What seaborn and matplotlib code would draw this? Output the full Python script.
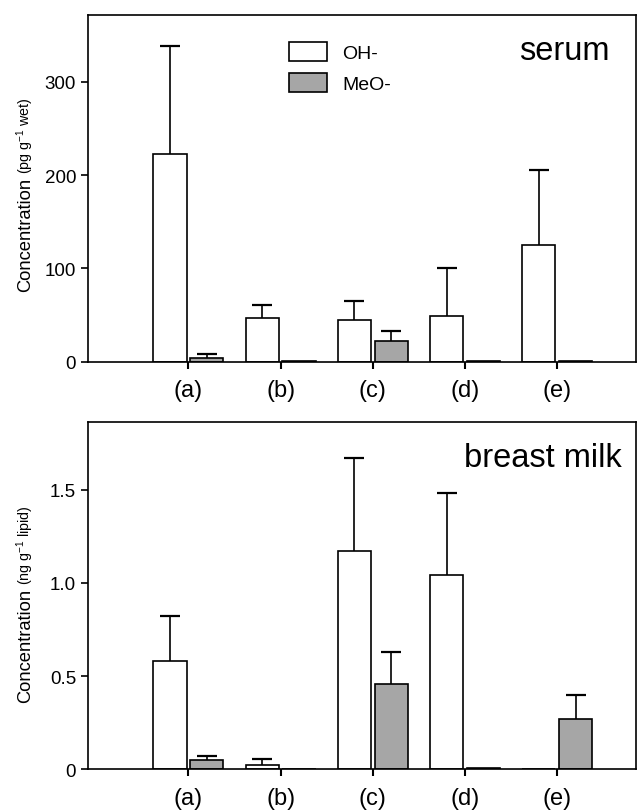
import numpy as np
import pandas as pd
import matplotlib
matplotlib.use("Agg")
import matplotlib.pyplot as plt
import seaborn as sns

# ---------------- data ----------------
categories = ["(a)", "(b)", "(c)", "(d)", "(e)"]
series = ["OH-", "MeO-"]

serum_oh = [223, 47, 45, 49, 125]
serum_oh_sd = [115, 14, 20, 51, 80]
serum_meo = [4.3, 1.0, 22, 1.0, 1.0]
serum_meo_sd = [3.6, 0, 11, 0, 0]

milk_oh = [0.58, 0.021, 1.17, 1.04, 0.004]
milk_oh_sd = [0.24, 0.034, 0.50, 0.44, 0]
milk_meo = [0.05, 0.003, 0.46, 0.005, 0.27]
milk_meo_sd = [0.02, 0, 0.17, 0, 0.13]

serum_yticks = [0, 100, 200, 300]
serum_yticklabels = ["0", "100", "200", "300"]
milk_yticks = [0, 0.5, 1.0, 1.5]
milk_yticklabels = ["0", "0.5", "1.0", "1.5"]

# ---------------- style ----------------
sns.set_theme(style="ticks")
plt.rcParams["font.family"] = ["Liberation Sans", "DejaVu Sans"]
plt.rcParams["mathtext.default"] = "regular"
plt.rcParams["text.color"] = "black"

W, H = 637, 812
fig = plt.figure(figsize=(W / 100, H / 100), dpi=100)
ax1 = fig.add_axes([88 / W, 1 - 362.7 / H, 548 / W, 347.0 / H])
ax2 = fig.add_axes([88 / W, 1 - 770.3 / H, 548 / W, 347.6 / H])

palette = {"OH-": "white", "MeO-": "#a6a6a6"}


def panel(ax, oh, oh_sd, meo, meo_sd, ymax, yticks, yticklabels, title, title_x):
    df = pd.DataFrame({
        "cat": categories * 2,
        "type": ["OH-"] * len(categories) + ["MeO-"] * len(categories),
        "value": list(oh) + list(meo),
    })
    sns.barplot(data=df, x="cat", y="value", hue="type", order=categories,
                hue_order=series, palette=palette, width=0.8, gap=0.1,
                edgecolor="black", linewidth=1.2, errorbar=None, legend=False,
                saturation=1, ax=ax)
    for cont, sd in zip(ax.containers[:2], [oh_sd, meo_sd]):
        xs, ys, es = [], [], []
        for p, e in zip(cont, sd):
            if e > 0:
                xs.append(p.get_x() + p.get_width() / 2)
                ys.append(p.get_height())
                es.append(e)
        if xs:
            eb = ax.errorbar(xs, ys, yerr=[np.zeros(len(es)), es], fmt="none",
                             ecolor="black", elinewidth=1.2, capsize=7.2,
                             capthick=1.6, zorder=3)
            # hide the caps at the lower end (bar top)
            eb.lines[1][0].set_visible(False)
    ax.set_xlim(-1.09, 4.856)
    ax.set_ylim(0, ymax)
    ax.set_yticks(yticks, yticklabels)
    ax.set_xlabel("")
    ax.set_ylabel("")
    ax.tick_params(axis="y", direction="out", length=5, width=1.2, pad=3.5,
                   labelsize=13.5, colors="black")
    ax.tick_params(axis="x", direction="out", length=5, width=1.5, pad=7.5,
                   labelsize=17, colors="black")
    for s in ax.spines.values():
        s.set_visible(True)
        s.set_color("black")
        s.set_linewidth(1.2)
    ax.text(title_x, 0.898, title, transform=ax.transAxes, ha="right",
            va="center", fontsize=23.5, color="black")


panel(ax1, serum_oh, serum_oh_sd, serum_meo, serum_meo_sd, 372,
      serum_yticks, serum_yticklabels, "serum", 0.951)
panel(ax2, milk_oh, milk_oh_sd, milk_meo, milk_meo_sd, 1.865,
      milk_yticks, milk_yticklabels, "breast milk", 0.974)

leg = ax1.legend([ax1.containers[0][0], ax1.containers[1][0]], series,
                 loc="upper left", bbox_to_anchor=(0.366, 0.922),
                 frameon=False, fontsize=14, handlelength=2.0,
                 handleheight=1.15, labelspacing=0.55, handletextpad=0.75,
                 borderpad=0, borderaxespad=0, labelcolor="black")


def two_part_ylabel(center_px, main, sub):
    bx = 30 / W
    t1 = fig.text(bx, 0.5, main, rotation=90, rotation_mode="anchor",
                  ha="left", va="baseline", fontsize=13.2, color="black")
    t2 = fig.text(bx, 0.5, sub, rotation=90, rotation_mode="anchor",
                  ha="left", va="baseline", fontsize=10.3, color="black")
    fig.canvas.draw()
    r = fig.canvas.get_renderer()
    h1 = t1.get_window_extent(r).height
    h2 = t2.get_window_extent(r).height
    gap = 4
    total = h1 + gap + h2
    y0 = (H - center_px) - total / 2
    t1.set_position((bx, y0 / H))
    t2.set_position((bx, (y0 + h1 + gap) / H))


two_part_ylabel(195, "Concentration", r"(pg g$^{-1}$ wet)")
two_part_ylabel(604, "Concentration", r"(ng g$^{-1}$ lipid)")

fig.savefig("out.png", dpi=100)
